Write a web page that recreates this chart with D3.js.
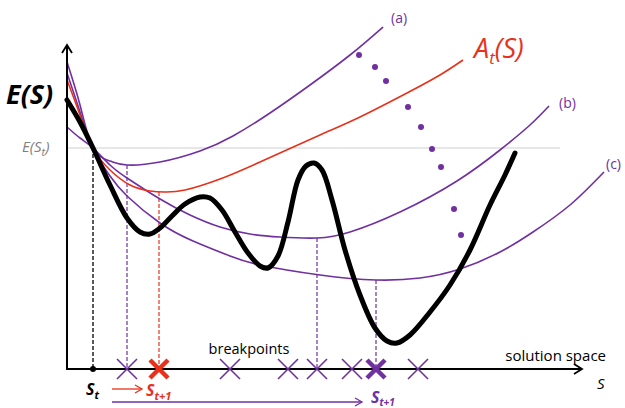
<!DOCTYPE html>
<html>
<head>
<meta charset="utf-8">
<script src="https://cdn.jsdelivr.net/npm/d3@7"></script>
<style>
  body { margin: 0; background: #fff; }
  svg { display: block; font-family: "Open Sans", "Liberation Sans", sans-serif; }
</style>
</head>
<body>
<svg width="625" height="408"></svg>
<script>
// solution-space position (s) and energy (e), arbitrary units
const energy = [[0,269],[13,247],[26,221],[43,184],[60,151],[73,137],[83,135],[93,141],[105,153],[118,165],[133,172],[143,171],[155,159],[168,137],[181,116],[193,103],[201,101],[211,113],[221,147],[231,189],[239,203],[247,206],[255,199],[265,169],[278,119],[293,74],[308,41],[320,28],[330,26],[343,34],[363,57],[383,84],[403,119],[423,164],[438,194],[448,216]];
const approxA = [[0,289],[13,254],[26,221],[43,199],[63,184],[83,178],[98,177],[118,179],[153,190],[193,207],[253,234],[293,252],[340,276],[373,294],[396,309]];
const curveA = [[0,307],[13,264],[26,221],[43,208],[60,204],[93,207],[133,218],[166,233],[203,256],[243,284],[283,314],[316,342]];
const curveB = [[0,242],[13,231],[26,221],[43,204],[60,191],[93,170],[123,154],[153,142],[183,135],[213,132],[250,131],[283,137],[333,157],[390,188],[433,219],[463,244],[482,263]];
const curveC = [[0,296],[13,257],[26,221],[43,193],[60,173],[93,146],[126,128],[163,113],[193,104],[253,94],[309,89],[353,91],[393,100],[433,117],[466,137],[503,164],[537,197]];
const currentS = 26, currentE = 221;
const minima = [[60,204,'p'],[92,177,'r'],[250,131,'p'],[309,89,'p']];
const breakpoints = [60,92,163,221,250,285,309,351];
const chosen = {92:'r', 309:'p'};
const dots = [[292,314],[308,302],[319,288],[341,262],[354,242],[365,220],[374,202],[387,160],[394,134]];

const purple = '#7030a0', red = '#e8311a';
const svg = d3.select('svg');
const x = d3.scaleLinear().domain([0, 513]).range([67, 580]);
const y = d3.scaleLinear().domain([0, 324]).range([369, 45]);
const line = d3.line().x(d => x(d[0])).y(d => y(d[1])).curve(d3.curveCatmullRom);
const smooth = d3.line().x(d => x(d[0])).y(d => y(d[1])).curve(d3.curveNatural);

// reference level E(S_t)
svg.append('line').attr('x1', x(0)).attr('x2', x(493))
  .attr('y1', y(currentE)).attr('y2', y(currentE))
  .attr('stroke', '#cfcfcf').attr('stroke-width', 1.2);

// dashed drops
svg.append('line').attr('x1', x(currentS)).attr('x2', x(currentS))
  .attr('y1', y(currentE)).attr('y2', y(0))
  .attr('stroke', '#000').attr('stroke-width', 1.3).attr('stroke-dasharray', '4,2');
svg.selectAll('.drop').data(minima).enter().append('line')
  .attr('x1', d => x(d[0])).attr('x2', d => x(d[0]))
  .attr('y1', d => y(d[1])).attr('y2', y(0))
  .attr('stroke', d => d[2] === 'r' ? red : purple)
  .attr('stroke-width', 1.2).attr('stroke-dasharray', '4,2');

// curves
[[curveA, purple], [curveB, purple], [curveC, purple], [approxA, red]].forEach(([c, col]) => {
  svg.append('path').attr('d', smooth(c)).attr('fill', 'none')
    .attr('stroke', col).attr('stroke-width', 1.6);
});
svg.append('path').attr('d', line(energy)).attr('fill', 'none')
  .attr('stroke', '#000').attr('stroke-width', 5).attr('stroke-linecap', 'round');

// dotted trail
svg.selectAll('.dot').data(dots).enter().append('circle')
  .attr('cx', d => x(d[0])).attr('cy', d => y(d[1])).attr('r', 3).attr('fill', purple);

// axes
const arrow = (x1, y1, x2, y2) => {
  svg.append('line').attr('x1', x1).attr('y1', y1).attr('x2', x2).attr('y2', y2)
    .attr('stroke', '#000').attr('stroke-width', 2);
};
arrow(x(0), y(0), x(0), 45);
svg.append('path').attr('d', `M${x(0)-5},${53}L${x(0)},${45}L${x(0)+5},${53}`)
  .attr('fill', 'none').attr('stroke', '#000').attr('stroke-width', 1.8);
arrow(x(0) - 1, y(0), 582, y(0));
svg.append('path').attr('d', `M574,${y(0)-5}L582,${y(0)}L574,${y(0)+5}`)
  .attr('fill', 'none').attr('stroke', '#000').attr('stroke-width', 1.8);
svg.append('circle').attr('cx', x(currentS)).attr('cy', y(0)).attr('r', 3).attr('fill', '#000');

// breakpoint crosses
svg.selectAll('.bp').data(breakpoints).enter().append('path')
  .attr('d', d => {
    const cx = x(d), cy = y(0), h = chosen[d] ? 9 : 10;
    return `M${cx-h},${cy-h}L${cx+h},${cy+h}M${cx-h},${cy+h}L${cx+h},${cy-h}`;
  })
  .attr('stroke', d => chosen[d] === 'r' ? red : purple)
  .attr('stroke-width', d => chosen[d] ? 4.5 : 1.6).attr('fill', 'none');

// texts
const txt = (t, px, py, opts = {}) => svg.append('text').attr('x', px).attr('y', py)
  .attr('font-size', opts.size || 15).attr('fill', opts.fill || '#000')
  .attr('font-style', opts.italic ? 'italic' : null)
  .attr('font-weight', opts.bold ? 'bold' : null)
  .attr('text-anchor', opts.anchor || 'start').html(t);

txt('E(S)', 6, 104, {size: 27, bold: true, italic: true});
txt('E(S<tspan font-size="11" dy="4">t</tspan><tspan dy="-4">)</tspan>', 22, 152, {size: 15, italic: true, fill: '#808080'});
txt('A<tspan font-size="17" dy="6">t</tspan><tspan dy="-6">(S)</tspan>', 474, 58, {size: 27, italic: true, fill: red});
txt('(a)', 391, 23, {size: 14, fill: purple});
txt('(b)', 559, 108, {size: 14, fill: purple});
txt('(c)', 606, 169, {size: 14, fill: purple});
txt('breakpoints', 249, 354, {size: 14.5, anchor: 'middle'});
txt('solution space', 606, 361, {size: 15, anchor: 'end'});
txt('S', 597, 389, {size: 15, italic: true});
txt('S<tspan font-size="11" dy="4">t</tspan>', 86, 395, {size: 16, bold: true, italic: true});
txt('S<tspan font-size="11" dy="4">t+1</tspan>', 146, 396, {size: 16, bold: true, italic: true, fill: red});
txt('S<tspan font-size="10" dy="3">t+1</tspan>', 371, 403, {size: 16, bold: true, italic: true, fill: purple});

// move arrows
const moveArrow = (x2, py, col) => {
  svg.append('line').attr('x1', 112).attr('x2', x2).attr('y1', py).attr('y2', py)
    .attr('stroke', col).attr('stroke-width', 1.3);
  svg.append('path').attr('d', `M${x2-7},${py-4}L${x2},${py}L${x2-7},${py+4}`)
    .attr('fill', 'none').attr('stroke', col).attr('stroke-width', 1.3);
};
moveArrow(142, 389, red);
moveArrow(362, 402, purple);
</script>
</body>
</html>
